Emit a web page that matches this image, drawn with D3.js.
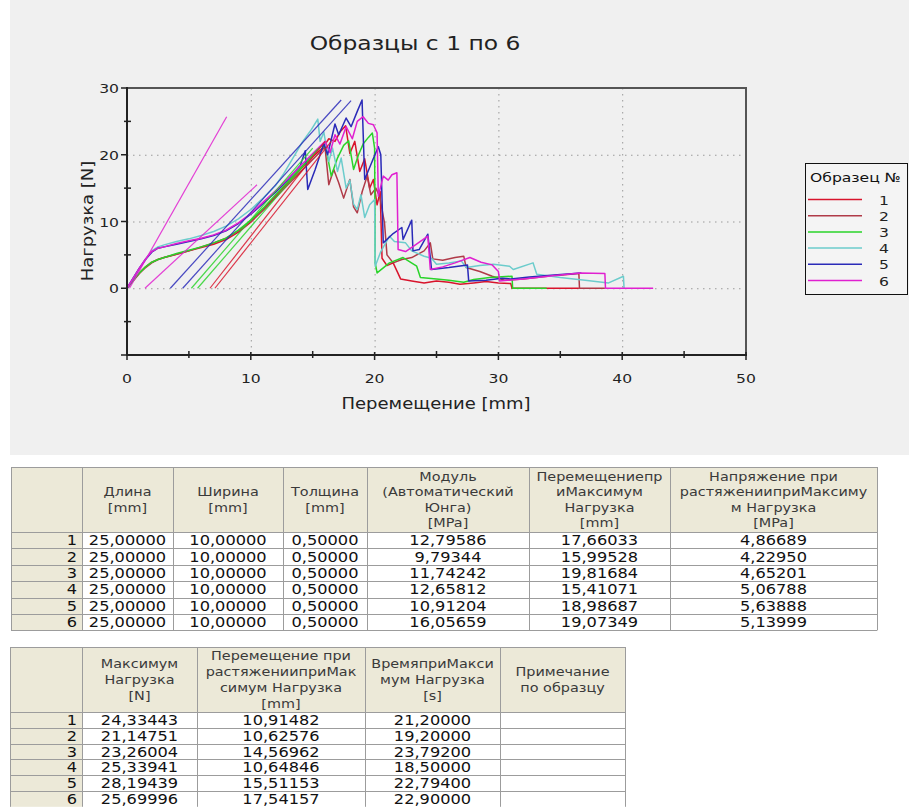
<!DOCTYPE html>
<html><head><meta charset="utf-8">
<script src="https://cdn.jsdelivr.net/npm/d3@7"></script>
<style>
body{margin:0;background:#fff}
svg{display:block}
text{font-family:"DejaVu Sans",Verdana,sans-serif}
</style>
</head><body>
<svg id="c" width="909" height="807"></svg>
<script>
// ---- Specimen identifiers and legend ----
const sampleIds = ["1","2","3","4","5","6"];
const sampleColors = ["#d8142c","#b03a48","#2ad42a","#6ccccc","#2a2ab8","#e020d0"];

// ---- Results table values ----
const lengthMm   = [25,25,25,25,25,25];
const widthMm    = [10,10,10,10,10,10];
const thickMm    = [0.5,0.5,0.5,0.5,0.5,0.5];
const modulusMPa = [12.79586,9.79344,11.74242,12.65812,10.91204,16.05659];
const dispAtMax  = [17.66033,15.99528,19.81684,15.41071,18.98687,19.07349];
const stressAtMax= [4.86689,4.22950,4.65201,5.06788,5.63888,5.13999];
const maxLoad    = [24.33443,21.14751,23.26004,25.33941,28.19439,25.69996];
const strainDispAtMax = [10.91482,10.62576,14.56962,10.64846,15.51153,17.54157];
const timeAtMax  = [21.2,19.2,23.792,18.5,22.794,22.9];

// ---- Load–displacement curves: points before and after the maximum ----
const rise1 = [[0,0],[0.5,1.2],[1,2.3],[1.5,3.2],[2,3.9],[2.5,4.3],[3,4.6],[4,5.1],[5,5.6],[6,6.1],[7,6.6],[8,7.3],[9,8.4],[10,9.9],[11,11.8],[12,13.8],[13,15.8],[14,17.8],[15,19.7],[15.8,21],[16.3,22.4],[16.8,22],[17.2,23.4]];
const fall1 = [[18,20.2],[18.4,22],[18.8,17.5],[19.2,19.4],[19.6,15],[19.9,16.3],[20.2,12.5],[20.45,14.5],[20.6,4.5],[21,3.4],[21.5,3.8],[21.8,2.6],[22.1,1.4],[23,1.1],[24,0.8],[25,1.1],[26,0.9],[26.9,0.6],[28,0.8],[29,1],[30,0.8],[31,0.7],[31.1,0],[36.5,0]];

const rise2 = [[0,0],[0.5,1.1],[1,2.2],[1.5,3.1],[2,3.8],[2.5,4.3],[3,4.6],[4,5.1],[5,5.6],[6,6.2],[7,6.8],[8,7.5],[9,8.6],[10,10],[11,11.7],[12,13.6],[13,15.5],[14,17.4],[15,19.3],[15.6,20.4]];
const fall2 = [[16.3,15.5],[16.7,17.8],[17.1,15.8],[17.5,13.5],[18,16.3],[18.3,12.2],[18.6,11.3],[19,14.5],[19.4,16.8],[19.7,14],[20.1,15],[20.4,13.8],[20.8,9.8],[21,5],[21.5,3.8],[22.2,4.3],[23,4.6],[24,5.6],[24.5,6.8],[24.7,4.4],[25.5,4.2],[26.5,4.6],[27.2,4.8],[27.4,3.1],[28.5,2.5],[29.5,1.8],[30.5,1.2],[32,1.4],[34,1.8],[36.5,2.2],[36.55,0],[38.6,0]];

const rise3 = [[0,0],[0.5,1.2],[1,2.3],[1.5,3.2],[2,3.9],[2.5,4.3],[3,4.6],[4,5.2],[5,5.7],[6,6.2],[7,6.8],[8,7.5],[9,8.7],[10,10.2],[11,12],[12,14],[13,16],[14,18],[15,20],[15.8,21.5],[16.1,20.7],[16.5,16.8],[17,19.5],[17.5,21.4],[17.9,22.1],[18.3,17.8],[18.7,20],[19.1,21.7],[19.5,22.6]];
const fall3 = [[20,21],[20.05,3.8],[20.2,2.3],[21.2,3.8],[22.3,4.6],[23.4,3.3],[23.7,1.6],[25,1.4],[26,1.2],[27.2,0.9],[28,1.3],[29.3,1.6],[31.1,1.8],[31.15,0],[33.9,0]];

const rise4 = [[0,0],[0.5,1.5],[1,3],[1.5,4.4],[2,5.6],[2.5,6.2],[3,6.5],[4,7],[5,7.4],[6,7.9],[7,8.5],[8,9.3],[9,10.4],[10,11.8],[11,13.5],[12,15.4],[12.6,17],[13.4,19.5],[14.2,22],[14.9,23.8]];
const fall4 = [[15.6,22],[15.9,23.4],[16.3,19],[16.6,21],[17,17.5],[17.3,19.5],[17.7,15],[18,16.2],[18.3,12.6],[18.6,11.8],[18.9,14],[19.2,10.6],[19.6,12.5],[20,13.3],[20.05,3.3],[20.5,5.5],[21.2,7.8],[21.6,7],[22.5,6.8],[23,5.6],[24,4.8],[24.6,4.5],[25,3.6],[26,3.8],[27,4.1],[27.4,3.1],[28.5,3.4],[29.6,3.6],[30.9,3.3],[31.2,2.8],[32.8,3.8],[33.1,2.1],[35,1.6],[37,1.2],[38.9,0.8],[40.1,1.8],[40.15,0]];

const rise5 = [[0,0],[0.5,1.5],[1,3],[1.5,4.3],[2,5.4],[2.5,6],[3,6.2],[4,6.6],[5,7],[6,7.4],[7,7.9],[8,8.6],[9,9.7],[10,11.1],[11,12.7],[12,14.4],[13,16.3],[14,18.4],[14.4,20.6],[14.6,14.8],[15.2,17.8],[15.9,21.7],[16.2,20],[16.8,24.6],[17.1,23],[17.7,25.5],[18.1,24.2],[18.6,26.5]];
const fall5 = [[19.2,16.3],[19.8,19],[20.3,21.2],[20.5,20],[20.7,6.8],[21.5,8.2],[22.2,9.1],[22.3,7.3],[23,10.2],[23.1,5.6],[23.6,5.8],[24.3,8.1],[24.6,2.8],[26,3.1],[27.5,3.5],[27.6,1.1],[29,1.2],[30.3,1.5],[31,1.4],[32.5,1.7],[34.5,2],[36.7,2.3]];

const rise6 = [[0,0],[0.5,1.5],[1,3],[1.5,4.4],[2,5.5],[2.5,6],[3,6.2],[4,6.7],[5,7.1],[6,7.5],[7,8],[8,8.7],[9,9.8],[10,11.2],[11,12.9],[12,14.6],[13,16.4],[14,18.3],[15,20.2],[16,22],[16.4,20.3],[16.8,23],[17.2,21.6],[17.7,24.2],[18.2,22.4],[18.6,25]];
const fall6 = [[19.5,24.7],[19.9,24.5],[20.2,23.3],[20.3,13.8],[20.7,16.8],[21.1,16.2],[21.4,17],[21.8,17.3],[21.9,5.8],[22.5,5.5],[23.3,6.5],[24.3,7.8],[24.5,2.8],[25.5,3.2],[26.5,3.8],[27.7,4.6],[28.6,3.9],[29.5,3.5],[30,2.5],[30.1,1.1],[32,1.4],[34,1.8],[36.6,2.3],[38.6,2.2],[38.65,0],[42.5,0]];

const risePts = [rise1,rise2,rise3,rise4,rise5,rise6];
const fallPts = [fall1,fall2,fall3,fall4,fall5,fall6];

// ---- Straight fit lines: specimen index, start and end points ----
const fitSample = [5,5,4,4,2,2,0,0];
const fitStart  = [[0.2,0],[1.45,0],[3.5,0],[4.5,0],[5.2,0],[5.7,0],[6.7,0],[7.1,0]];
const fitEnd    = [[8.05,25.7],[10.5,15.5],[17.3,28.2],[18.1,28.1],[15,21],[15.5,21],[16,22],[16.5,22]];

// ---- Axis ticks ----
const xTickMajor = [0,10,20,30,40,50];
const xTickMinor = [5,15,25,35,45];
const yTickMajor = [-10,0,10,20,30];
const yTickLabels = [0,10,20,30];
const yTickMinor = [-5,5,15,25];
const xGrid = [10,20,30,40];
const yGrid = [0,10,20];

// ---- Text ----
const chartTitle = "Образцы с 1 по 6";
const xTitle = "Перемещение [mm]";
const yTitle = "Нагрузка [N]";
const legendTitle = "Образец №";

const table1Head = [
  ["Длина","[mm]"],["Ширина","[mm]"],["Толщина","[mm]"],
  ["Модуль","(Автоматический","Юнга)","[MPa]"],
  ["Перемещениепр","иМаксимум","Нагрузка","[mm]"],
  ["Напряжение при","растяженииприМаксиму","м Нагрузка","[MPa]"]
];
const table2Head = [
  ["Максимум","Нагрузка","[N]"],
  ["Перемещение при","растяженииприМак","симум Нагрузка","[mm]"],
  ["ВремяприМакси","мум Нагрузка","[s]"],
  ["Примечание","по образцу"]
];
const notes = ["","","","","",""];

// ---------------------------------------------------------------
const SX = 1.2; // horizontal text stretch of this report layout
const svg = d3.select("#c");
function stext(sel, str, x, y, size, anchor, fill) {
  return sel.append("text")
    .attr("transform", `translate(${x},${y}) scale(${SX},1)`)
    .attr("font-size", size)
    .attr("text-anchor", anchor || "middle")
    .attr("fill", fill || "#222")
    .text(str);
}
const fmt = v => d3.format(".5f")(v).replace(".", ",");

// chart panel
svg.append("rect").attr("x",10).attr("y",0).attr("width",899).attr("height",455).attr("fill","#f0f0f0");

const x = d3.scaleLinear().domain([0,50]).range([127,746]);
const y = d3.scaleLinear().domain([-10,30]).range([355,88]);

stext(svg, chartTitle, 415, 50, 19.5, "middle", "#222");

// grid
const grid = svg.append("g").attr("stroke","#9a9a9a").attr("stroke-width",1).attr("stroke-dasharray","1.5,4.5");
grid.selectAll("line.gx").data(xGrid).join("line")
  .attr("x1",d=>x(d)+0.5).attr("x2",d=>x(d)+0.5).attr("y1",y(30)).attr("y2",y(-10));
grid.selectAll("line.gy").data(yGrid).join("line")
  .attr("x1",x(0)).attr("x2",x(50)).attr("y1",d=>y(d)+0.5).attr("y2",d=>y(d)+0.5);

// curves
const line = d3.line().x(d=>x(d[0])).y(d=>y(d[1]));
const plot = svg.append("g").attr("fill","none").attr("stroke-width",1.5).attr("stroke-linejoin","round");
sampleIds.forEach((id,i)=>{
  plot.append("path")
    .datum(risePts[i].concat([[dispAtMax[i], maxLoad[i]]], fallPts[i]))
    .attr("stroke", sampleColors[i]).attr("d", line);
});
fitSample.forEach((s,k)=>{
  plot.append("path").datum([fitStart[k], fitEnd[k]])
    .attr("stroke", sampleColors[s]).attr("stroke-width",1.2).attr("opacity",0.85).attr("d", line);
});

// frame: top and right borders
svg.append("path").attr("d",`M${x(0)},${y(30)}H${x(50)}V${y(-10)}`)
  .attr("fill","none").attr("stroke","#555").attr("stroke-width",2);

// axes
const ax = svg.append("g").attr("stroke","#222");
ax.append("line").attr("x1",x(0)).attr("x2",x(0)).attr("y1",y(30)-1).attr("y2",y(-10)+1).attr("stroke-width",2);
ax.append("line").attr("x1",x(0)-1).attr("x2",x(50)+1).attr("y1",y(-10)).attr("y2",y(-10)).attr("stroke-width",2);
ax.selectAll("line.ym").data(yTickMajor).join("line").attr("class","ym")
  .attr("x1",x(0)-6).attr("x2",x(0)).attr("y1",d=>y(d)).attr("y2",d=>y(d)).attr("stroke-width",1.5);
ax.selectAll("line.yn").data(yTickMinor).join("line").attr("class","yn")
  .attr("x1",x(0)-3).attr("x2",x(0)+4).attr("y1",d=>y(d)).attr("y2",d=>y(d)).attr("stroke-width",1.5);
ax.selectAll("line.xm").data(xTickMajor).join("line").attr("class","xm")
  .attr("x1",d=>x(d)).attr("x2",d=>x(d)).attr("y1",y(-10)-3).attr("y2",y(-10)+5).attr("stroke-width",1.5);
ax.selectAll("line.xn").data(xTickMinor).join("line").attr("class","xn")
  .attr("x1",d=>x(d)).attr("x2",d=>x(d)).attr("y1",y(-10)-4).attr("y2",y(-10)+3).attr("stroke-width",1.5);

yTickLabels.forEach(v=>stext(svg, String(v), x(0)-8, y(v)+5, 13, "end", "#222"));
xTickMajor.forEach(v=>stext(svg, String(v), x(v), 383, 13, "middle", "#222"));

stext(svg, xTitle, 436, 409, 15, "middle", "#222");
svg.append("text").attr("transform","translate(93,221) rotate(-90) scale(1.2,1)")
  .attr("font-size",15).attr("text-anchor","middle").attr("fill","#222").text(yTitle);

// legend
const lg = svg.append("g");
lg.append("rect").attr("x",805.5).attr("y",163.5).attr("width",102).attr("height",131)
  .attr("fill","#f4f4f4").attr("stroke","#111");
stext(lg, legendTitle, 810, 182, 13, "start", "#111");
const ly = d3.scalePoint().domain(sampleIds).range([199.5,280.5]);
sampleIds.forEach((id,i)=>{
  lg.append("line").attr("x1",808).attr("x2",862).attr("y1",ly(id)).attr("y2",ly(id))
    .attr("stroke",sampleColors[i]).attr("stroke-width",1.5);
  stext(lg, id, 884, ly(id)+5, 13, "middle", "#222");
});

// tables
function drawTable(edges, top, headH, rowH, heads, cols, headSize, bodySize, lineH) {
  const g = svg.append("g");
  const nRows = cols[0].length;
  const bottom = top + headH + rowH*nRows;
  g.append("rect").attr("x",edges[0]).attr("y",top).attr("width",edges[edges.length-1]-edges[0]).attr("height",headH).attr("fill","#ece9d8");
  g.append("rect").attr("x",edges[0]).attr("y",top+headH).attr("width",edges[1]-edges[0]).attr("height",rowH*nRows).attr("fill","#ece9d8");
  g.append("rect").attr("x",edges[1]).attr("y",top+headH).attr("width",edges[edges.length-1]-edges[1]).attr("height",rowH*nRows).attr("fill","#fff");
  const gl = g.append("g").attr("stroke","#9c9c9c").attr("stroke-width",1);
  edges.forEach(e=>gl.append("line").attr("x1",e+0.5).attr("x2",e+0.5).attr("y1",top).attr("y2",bottom));
  d3.range(nRows+2).forEach(r=>{
    const yy = r===0 ? top : top+headH+rowH*(r-1);
    gl.append("line").attr("x1",edges[0]).attr("x2",edges[edges.length-1]).attr("y1",Math.round(yy)+0.5).attr("y2",Math.round(yy)+0.5);
  });
  heads.forEach((lines,c)=>{
    const cx = (edges[c+1]+edges[c+2])/2;
    const cy = top + headH/2;
    lines.forEach((t,k)=>stext(g, t, cx, cy + (k-(lines.length-1)/2)*lineH + 4.3, headSize, "middle", "#3a3a3a"));
  });
  d3.range(nRows).forEach(r=>{
    const cy = top + headH + rowH*r + rowH/2 + 5;
    stext(g, String(r+1), edges[1]-5, cy, bodySize, "end", "#111");
    cols.forEach((col,c)=>{
      const cx = (edges[c+1]+edges[c+2])/2;
      stext(g, col[r], cx, cy, bodySize, "middle", "#111");
    });
  });
}
drawTable([11,82,173,283,367,529,670,877], 467, 65, 16.4, table1Head,
  [lengthMm.map(fmt), widthMm.map(fmt), thickMm.map(fmt), modulusMPa.map(fmt), dispAtMax.map(fmt), stressAtMax.map(fmt)],
  12, 13.5, 15.5);
drawTable([10,82,197,365,500,625], 647, 65, 15.8, table2Head,
  [maxLoad.map(fmt), strainDispAtMax.map(fmt), timeAtMax.map(fmt), notes],
  12, 13.5, 16);
</script>
</body></html>
